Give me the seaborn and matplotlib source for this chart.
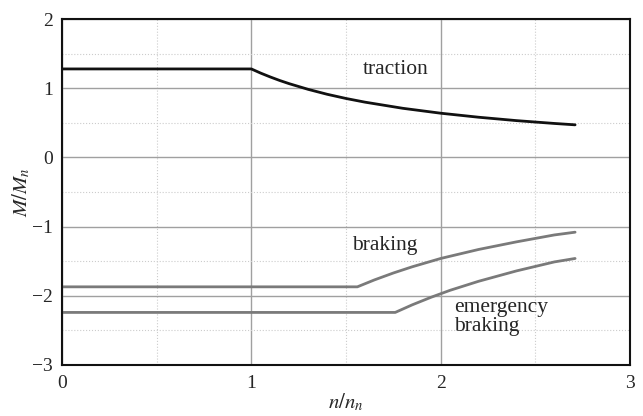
import matplotlib
matplotlib.use("Agg")
import matplotlib.pyplot as plt
from matplotlib.ticker import MultipleLocator
import seaborn as sns
import pandas as pd

# values
traction_x = [0.0, 1.0, 1.05, 1.1, 1.15, 1.2, 1.3, 1.4, 1.5, 1.6, 1.8, 2.0,
              2.2, 2.4, 2.6, 2.71]
traction_y = [1.28, 1.28, 1.219, 1.164, 1.113, 1.067, 0.985, 0.914, 0.853,
              0.800, 0.711, 0.640, 0.582, 0.533, 0.492, 0.472]

braking_x = [0.0, 1.56, 1.65, 1.75, 1.85, 2.0, 2.2, 2.4, 2.6, 2.71]
braking_y = [-1.87, -1.87, -1.77, -1.67, -1.58, -1.46, -1.33, -1.22, -1.12,
             -1.08]

emergency_x = [0.0, 1.76, 1.85, 1.95, 2.05, 2.2, 2.4, 2.6, 2.71]
emergency_y = [-2.24, -2.24, -2.13, -2.02, -1.92, -1.79, -1.64, -1.51, -1.46]

series_names = ["traction", "braking", "emergency braking"]
series_colors = ["#111111", "#7a7a7a", "#7a7a7a"]

rows = []
for name, xs, ys in zip(series_names,
                        [traction_x, braking_x, emergency_x],
                        [traction_y, braking_y, emergency_y]):
    for x, y in zip(xs, ys):
        rows.append({"n": x, "M": y, "curve": name})
df = pd.DataFrame(rows)

sns.set_style("white")
plt.rcParams["font.family"] = ["Liberation Serif", "DejaVu Serif"]
plt.rcParams["mathtext.fontset"] = "stix"
plt.rcParams["axes.unicode_minus"] = True

fig = plt.figure(figsize=(6.43, 4.16), dpi=100)
ax = fig.add_axes([0.0964, 0.1226, 0.8834, 0.8314])

sns.lineplot(data=df, x="n", y="M", hue="curve", palette=series_colors,
             hue_order=series_names, sort=False, linewidth=2, legend=False,
             ax=ax)

ax.set_xlim(0, 3)
ax.set_ylim(-3, 2)
ax.xaxis.set_major_locator(MultipleLocator(1))
ax.yaxis.set_major_locator(MultipleLocator(1))
ax.xaxis.set_minor_locator(MultipleLocator(0.5))
ax.yaxis.set_minor_locator(MultipleLocator(0.5))
ax.grid(which="major", color="#a0a0a0", linewidth=1, linestyle="-")
ax.grid(which="minor", color="#cccccc", linewidth=0.8, linestyle=":")
ax.set_axisbelow(True)

ax.tick_params(axis="both", which="major", labelsize=14, length=3,
               direction="out", color="#888888")
ax.tick_params(axis="x", which="major", length=0, pad=7)
ax.tick_params(which="minor", length=0)

for side in ["left", "top", "right", "bottom"]:
    ax.spines[side].set_color("#111111")
    ax.spines[side].set_linewidth(1.5)

ax.set_xlabel(r"$n/n_n$", fontsize=15, labelpad=0)
ax.set_ylabel(r"$M/M_n$", fontsize=15, labelpad=0)

ax.text(1.59, 1.27, "traction", fontsize=15.5, va="center", ha="left")
ax.text(1.53, -1.27, "braking", fontsize=15.5, va="center", ha="left")
ax.text(2.07, -2.31, "emergency\nbraking", fontsize=15.5, va="center",
        ha="left", linespacing=1.0)

fig.savefig("out.png", dpi=100)
